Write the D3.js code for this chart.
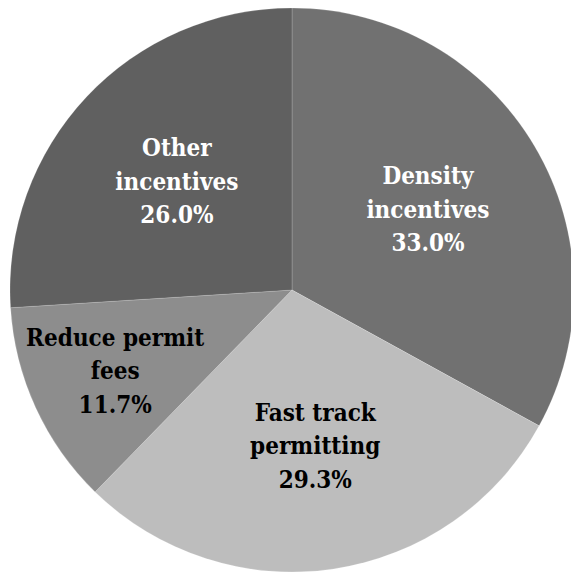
<!DOCTYPE html>
<html>
<head>
<meta charset="utf-8">
<script src="https://cdn.jsdelivr.net/npm/d3@7"></script>
<style>
  html, body { margin: 0; padding: 0; background: #ffffff; }
  svg { display: block; }
  .lbl { font-family: "DejaVu Serif Condensed", "DejaVu Serif", serif; font-stretch: condensed; font-weight: bold; font-size: 24px; }
</style>
</head>
<body>
<script>
const categories = ["Density incentives", "Fast track permitting", "Reduce permit fees", "Other incentives"];
const labelLines = [["Density", "incentives"], ["Fast track", "permitting"], ["Reduce permit", "fees"], ["Other", "incentives"]];
const values = [33.0, 29.3, 11.7, 26.0];
const colors = ["#717171", "#bdbdbd", "#8d8d8d", "#606060"];
const textColors = ["#ffffff", "#000000", "#000000", "#ffffff"];

const W = 571, H = 574;
const cx = 292, cy = 290, R = 282;

const svg = d3.select("body").append("svg").attr("width", W).attr("height", H);
const g = svg.append("g").attr("transform", `translate(${cx},${cy})`);

const pie = d3.pie().sort(null).value(d => d);
const arcs = pie(values);
const arc = d3.arc().innerRadius(0).outerRadius(R);

g.selectAll("path.slice").data(arcs).enter().append("path")
  .attr("class", "slice")
  .attr("d", arc)
  .attr("fill", (d, i) => colors[i])
  .attr("stroke", "rgba(255,255,255,0.18)")
  .attr("stroke-width", 1);

const labelArcMain = d3.arc().innerRadius(R * 0.56).outerRadius(R * 0.56);
const labelArcSmall = d3.arc().innerRadius(R * 0.69).outerRadius(R * 0.69);

const lg = g.selectAll("g.label").data(arcs).enter().append("g")
  .attr("class", "label")
  .attr("transform", d => {
    const a = (d.endAngle - d.startAngle) < 1 ? labelArcSmall : labelArcMain;
    const [x, y] = a.centroid(d);
    return `translate(${x},${y})`;
  });

const lineH = 33.5;
lg.each(function(d, i) {
  const lines = labelLines[i].concat([d3.format(".1f")(values[i]) + "%"]);
  const t = d3.select(this).append("text")
    .attr("class", "lbl")
    .attr("text-anchor", "middle")
    .attr("fill", textColors[i]);
  lines.forEach((ln, k) => {
    t.append("tspan")
      .attr("x", 0)
      .attr("y", (k - (lines.length - 1) / 2) * lineH + 8)
      .text(ln);
  });
});
</script>
</body>
</html>
